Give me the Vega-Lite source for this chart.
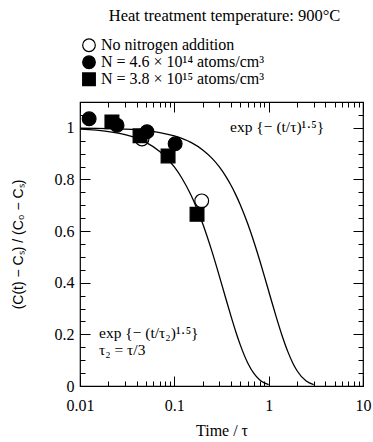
{
  "$schema": "https://vega.github.io/schema/vega-lite/v6.json",
  "width": 283,
  "height": 284,
  "autosize": {"type": "none"},
  "padding": {"left": 80, "top": 102, "right": 10, "bottom": 56},
  "background": "white",
  "config": {
    "view": {"stroke": "black", "strokeWidth": 1.2},
    "font": "Liberation Serif"
  },
  "title": {
    "text": "Heat treatment temperature: 900°C",
    "font": "Liberation Serif",
    "fontSize": 16.5,
    "fontWeight": "normal",
    "color": "black",
    "anchor": "middle",
    "frame": "group",
    "baseline": "bottom",
    "offset": -2,
    "dx": 3
  },
  "datasets": {
    "curves": [
      {"t": 0.01, "v": 0.999, "curve": "tau"},
      {"t": 0.02, "v": 0.99718, "curve": "tau"},
      {"t": 0.03, "v": 0.99482, "curve": "tau"},
      {"t": 0.05, "v": 0.98888, "curve": "tau"},
      {"t": 0.07, "v": 0.98165, "curve": "tau"},
      {"t": 0.1, "v": 0.96887, "curve": "tau"},
      {"t": 0.15, "v": 0.94356, "curve": "tau"},
      {"t": 0.2, "v": 0.91444, "curve": "tau"},
      {"t": 0.25, "v": 0.8825, "curve": "tau"},
      {"t": 0.3, "v": 0.84847, "curve": "tau"},
      {"t": 0.35, "v": 0.813, "curve": "tau"},
      {"t": 0.4, "v": 0.77648, "curve": "tau"},
      {"t": 0.45, "v": 0.7394, "curve": "tau"},
      {"t": 0.5, "v": 0.70219, "curve": "tau"},
      {"t": 0.6, "v": 0.62831, "curve": "tau"},
      {"t": 0.7, "v": 0.55675, "curve": "tau"},
      {"t": 0.8, "v": 0.48895, "curve": "tau"},
      {"t": 0.9, "v": 0.4258, "curve": "tau"},
      {"t": 1.0, "v": 0.36788, "curve": "tau"},
      {"t": 1.1, "v": 0.3155, "curve": "tau"},
      {"t": 1.2, "v": 0.26861, "curve": "tau"},
      {"t": 1.4, "v": 0.19081, "curve": "tau"},
      {"t": 1.6, "v": 0.13214, "curve": "tau"},
      {"t": 1.8, "v": 0.08938, "curve": "tau"},
      {"t": 2.0, "v": 0.0591, "curve": "tau"},
      {"t": 2.5, "v": 0.0192, "curve": "tau"},
      {"t": 3.0, "v": 0.00554, "curve": "tau"},
      {"t": 0.01, "v": 0.99482, "curve": "tau2"},
      {"t": 0.02, "v": 0.98541, "curve": "tau2"},
      {"t": 0.03, "v": 0.97336, "curve": "tau2"},
      {"t": 0.04, "v": 0.9593, "curve": "tau2"},
      {"t": 0.05, "v": 0.94356, "curve": "tau2"},
      {"t": 0.07, "v": 0.90826, "curve": "tau2"},
      {"t": 0.1, "v": 0.84847, "curve": "tau2"},
      {"t": 0.12, "v": 0.8057, "curve": "tau2"},
      {"t": 0.15, "v": 0.73945, "curve": "tau2"},
      {"t": 0.17, "v": 0.6947, "curve": "tau2"},
      {"t": 0.2, "v": 0.62831, "curve": "tau2"},
      {"t": 0.25, "v": 0.52228, "curve": "tau2"},
      {"t": 0.3, "v": 0.4258, "curve": "tau2"},
      {"t": 0.35, "v": 0.34098, "curve": "tau2"},
      {"t": 0.4, "v": 0.26861, "curve": "tau2"},
      {"t": 0.45, "v": 0.2083, "curve": "tau2"},
      {"t": 0.5, "v": 0.15928, "curve": "tau2"},
      {"t": 0.6, "v": 0.08938, "curve": "tau2"},
      {"t": 0.7, "v": 0.04768, "curve": "tau2"},
      {"t": 0.8, "v": 0.02428, "curve": "tau2"},
      {"t": 0.9, "v": 0.01184, "curve": "tau2"},
      {"t": 1.0, "v": 0.00554, "curve": "tau2"}
    ],
    "points": [
      {"t": 0.0454, "v": 0.957, "series": "No nitrogen addition"},
      {"t": 0.195, "v": 0.717, "series": "No nitrogen addition"},
      {"t": 0.0125, "v": 1.035, "series": "N = 4.6 × 10¹⁴ atoms/cm³"},
      {"t": 0.0247, "v": 1.01, "series": "N = 4.6 × 10¹⁴ atoms/cm³"},
      {"t": 0.0513, "v": 0.985, "series": "N = 4.6 × 10¹⁴ atoms/cm³"},
      {"t": 0.102, "v": 0.938, "series": "N = 4.6 × 10¹⁴ atoms/cm³"},
      {"t": 0.0218, "v": 1.023, "series": "N = 3.8 × 10¹⁵ atoms/cm³"},
      {"t": 0.0433, "v": 0.969, "series": "N = 3.8 × 10¹⁵ atoms/cm³"},
      {"t": 0.0858, "v": 0.891, "series": "N = 3.8 × 10¹⁵ atoms/cm³"},
      {"t": 0.174, "v": 0.665, "series": "N = 3.8 × 10¹⁵ atoms/cm³"}
    ],
    "notes": [
      {"t": 0.39, "v": 1.004, "text": "exp {− (t/τ)¹·⁵}"},
      {"t": 0.0159, "v": 0.206, "text": "exp {− (t/τ₂)¹·⁵}"},
      {"t": 0.0159, "v": 0.14, "text": "τ₂ = τ/3"}
    ]
  },
  "layer": [
    {
      "data": {"name": "curves"},
      "mark": {"type": "line", "color": "black", "strokeWidth": 1.3, "interpolate": "monotone", "clip": true},
      "encoding": {
        "x": {
          "field": "t", "type": "quantitative",
          "scale": {"type": "log", "domain": [0.01, 10]},
          "axis": {
            "orient": "bottom",
            "title": "Time / τ",
            "values": [0.01, 0.02, 0.03, 0.04, 0.05, 0.06, 0.07, 0.08, 0.09, 0.1, 0.2, 0.3, 0.4, 0.5, 0.6, 0.7, 0.8, 0.9, 1, 2, 3, 4, 5, 6, 7, 8, 9, 10],
            "labelExpr": "indexof([0.01, 0.1, 1, 10], datum.value) >= 0 ? format(datum.value, '~g') : ''",
            "tickSize": {"condition": {"test": "indexof([0.01, 0.1, 1, 10], datum.value) >= 0", "value": -10}, "value": -5},
            "labelPadding": 21,
            "labelFlush": false,
            "labelOverlap": false,
            "domain": false,
            "grid": false,
            "tickColor": "black",
            "tickWidth": 1,
            "labelFont": "Liberation Serif",
            "labelFontSize": 16,
            "labelColor": "black",
            "titleFont": "Liberation Serif",
            "titleFontSize": 16,
            "titleFontWeight": "normal",
            "titleColor": "black",
            "titleY": 44,
            "titleBaseline": "middle"
          }
        },
        "y": {
          "field": "v", "type": "quantitative",
          "scale": {"domain": [0, 1.1], "nice": false, "zero": false},
          "axis": {
            "orient": "left",
            "title": "(C(t) − Cₛ) / (C₀ − Cₛ)",
            "values": [0, 0.05, 0.1, 0.15, 0.2, 0.25, 0.3, 0.35, 0.4, 0.45, 0.5, 0.55, 0.6, 0.65, 0.7, 0.75, 0.8, 0.85, 0.9, 0.95, 1, 1.05],
            "labelExpr": "round(datum.value * 100) % 20 === 0 ? format(datum.value, '~g') : ''",
            "tickSize": {"condition": {"test": "round(datum.value * 100) % 20 === 0", "value": -10}, "value": -5},
            "labelPadding": 16,
            "labelOverlap": false,
            "labelFlush": false,
            "domain": false,
            "grid": false,
            "tickColor": "black",
            "tickWidth": 1,
            "labelFont": "Liberation Serif",
            "labelFontSize": 16,
            "labelColor": "black",
            "titleFont": "Liberation Sans",
            "titleFontSize": 14,
            "titleFontWeight": "normal",
            "titleColor": "black",
            "titleX": -62,
            "titleY": 142,
            "titleAngle": -90,
            "titleAlign": "center",
            "titleBaseline": "middle"
          }
        },
        "detail": {"field": "curve"}
      }
    },
    {
      "data": {"name": "points"},
      "mark": {"type": "point", "filled": true, "strokeWidth": 1.2, "size": 190, "opacity": 1},
      "encoding": {
        "x": {
          "field": "t", "type": "quantitative",
          "axis": {
            "orient": "top",
            "title": null,
            "labels": false,
            "values": [0.01, 0.02, 0.03, 0.04, 0.05, 0.06, 0.07, 0.08, 0.09, 0.1, 0.2, 0.3, 0.4, 0.5, 0.6, 0.7, 0.8, 0.9, 1, 2, 3, 4, 5, 6, 7, 8, 9, 10],
            "tickSize": {"condition": {"test": "indexof([0.01, 0.1, 1, 10], datum.value) >= 0", "value": -10}, "value": -5},
            "domain": false,
            "grid": false,
            "tickColor": "black",
            "tickWidth": 1
          }
        },
        "y": {
          "field": "v", "type": "quantitative",
          "axis": {
            "orient": "right",
            "title": null,
            "labels": false,
            "values": [0, 0.05, 0.1, 0.15, 0.2, 0.25, 0.3, 0.35, 0.4, 0.45, 0.5, 0.55, 0.6, 0.65, 0.7, 0.75, 0.8, 0.85, 0.9, 0.95, 1, 1.05],
            "tickSize": {"condition": {"test": "round(datum.value * 100) % 20 === 0", "value": -10}, "value": -5},
            "domain": false,
            "grid": false,
            "tickColor": "black",
            "tickWidth": 1
          }
        },
        "shape": {
          "field": "series", "type": "nominal",
          "scale": {"domain": ["No nitrogen addition", "N = 4.6 × 10¹⁴ atoms/cm³", "N = 3.8 × 10¹⁵ atoms/cm³"], "range": ["circle", "circle", "square"]},
          "legend": {
            "orient": "none", "legendX": 1, "legendY": -64, "title": null,
            "labelFont": "Liberation Serif", "labelFontSize": 16, "labelColor": "black",
            "symbolSize": 160, "symbolStrokeWidth": 1.2,
            "rowPadding": 0, "clipHeight": 14.5, "labelOffset": 4, "padding": 0, "labelLimit": 300
          }
        },
        "fill": {
          "field": "series", "type": "nominal",
          "scale": {"domain": ["No nitrogen addition", "N = 4.6 × 10¹⁴ atoms/cm³", "N = 3.8 × 10¹⁵ atoms/cm³"], "range": ["white", "black", "black"]},
          "legend": {
            "orient": "none", "legendX": 1, "legendY": -64, "title": null,
            "labelFont": "Liberation Serif", "labelFontSize": 16, "labelColor": "black",
            "symbolSize": 160, "symbolStrokeWidth": 1.2,
            "rowPadding": 0, "clipHeight": 14.5, "labelOffset": 4, "padding": 0, "labelLimit": 300
          }
        },
        "stroke": {
          "field": "series", "type": "nominal",
          "scale": {"domain": ["No nitrogen addition", "N = 4.6 × 10¹⁴ atoms/cm³", "N = 3.8 × 10¹⁵ atoms/cm³"], "range": ["black", "black", "black"]},
          "legend": {
            "orient": "none", "legendX": 1, "legendY": -64, "title": null,
            "labelFont": "Liberation Serif", "labelFontSize": 16, "labelColor": "black",
            "symbolSize": 160, "symbolStrokeWidth": 1.2,
            "rowPadding": 0, "clipHeight": 14.5, "labelOffset": 4, "padding": 0, "labelLimit": 300
          }
        }
      }
    },
    {
      "data": {"name": "notes"},
      "mark": {"type": "text", "align": "left", "baseline": "middle", "font": "Liberation Serif", "fontSize": 15.5, "color": "black"},
      "encoding": {
        "x": {"field": "t", "type": "quantitative", "axis": null},
        "y": {"field": "v", "type": "quantitative", "axis": null},
        "text": {"field": "text"}
      }
    }
  ],
  "resolve": {"axis": {"x": "independent", "y": "independent"}}
}
